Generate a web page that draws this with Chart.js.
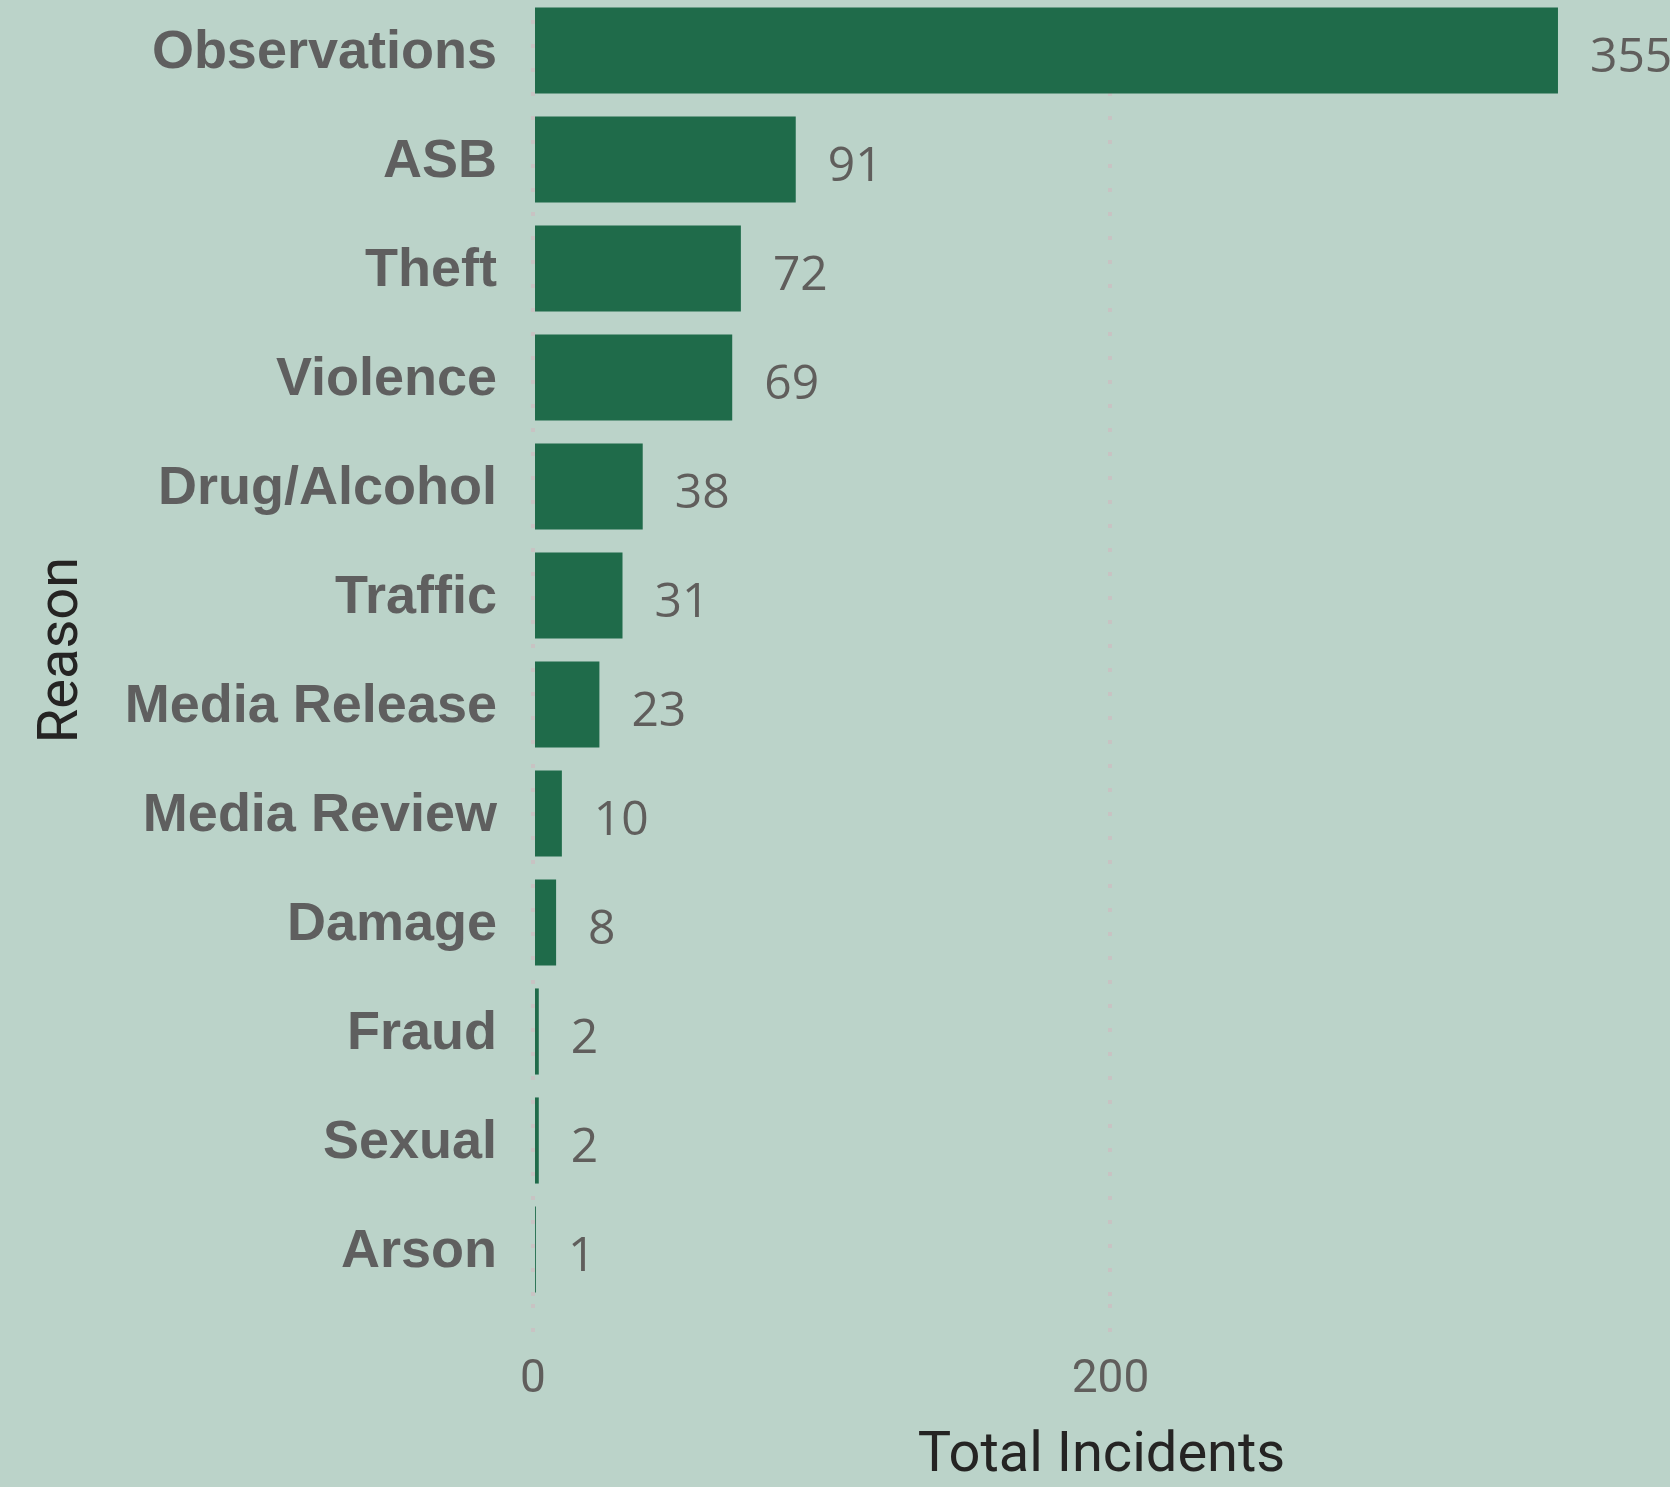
<!DOCTYPE html>
<html>
<head>
<meta charset="utf-8">
<script src="https://cdn.jsdelivr.net/npm/chart.js@4.4.1/dist/chart.umd.min.js"></script>
<style>
  html, body { margin: 0; padding: 0; background: #BBD3C9; overflow: hidden; }
  #wrap { position: absolute; left: 0; top: -4px; width: 1670px; height: 1491px; }
</style>
</head>
<body>
<div id="wrap"><canvas id="ReasonChart" width="1670" height="1491"></canvas></div>
<script>
const reasons = ['Observations', 'ASB', 'Theft', 'Violence', 'Drug/Alcohol', 'Traffic',
  'Media Release', 'Media Review', 'Damage', 'Fraud', 'Sexual', 'Arson'];
const incidents = [355, 91, 72, 69, 38, 31, 23, 10, 8, 2, 2, 1];
const xTicks = [0, 200];
const xMax = 393.8;

// value labels just after the bar end
const valueLabels = {
  id: 'valueLabels',
  afterDatasetsDraw(chart) {
    const ctx = chart.ctx;
    const meta = chart.getDatasetMeta(0);
    ctx.save();
    ctx.font = '48px "Open Sans"';
    ctx.fillStyle = '#605E5C';
    ctx.textAlign = 'left';
    ctx.textBaseline = 'middle';
    meta.data.forEach((bar, i) => {
      ctx.fillText(String(incidents[i]), bar.x + 32, bar.y + 8);
    });
    ctx.restore();
  }
};

new Chart(document.getElementById('ReasonChart'), {
  type: 'bar',
  data: {
    labels: reasons,
    datasets: [{
      label: 'Total Incidents',
      data: incidents,
      backgroundColor: '#1F6B4A',
      barPercentage: 0.79,
      categoryPercentage: 1.0,
      borderSkipped: false
    }]
  },
  options: {
    indexAxis: 'y',
    responsive: false,
    devicePixelRatio: 1,
    animation: false,
    layout: { padding: 0 },
    plugins: {
      legend: { display: false },
      tooltip: { enabled: false }
    },
    scales: {
      x: {
        min: 0,
        max: xMax,
        afterBuildTicks: ax => { ax.ticks = xTicks.map(v => ({ value: v })); },
        afterFit: ax => { ax.height = 183; ax.paddingLeft = 0; ax.paddingRight = 0; },
        grid: {
          display: true,
          color: '#C8C3C3',
          lineWidth: 4,
          drawTicks: true,
          tickLength: 34,
          tickColor: '#C8C3C3',
          tickWidth: 4,
          tickBorderDash: [4, 20]
        },
        border: { display: false, dash: [4, 20] },
        ticks: {
          padding: 15,
          color: '#605E5C',
          font: { family: 'Roboto', size: 46 }
        },
        title: {
          display: true,
          text: 'Total Incidents',
          color: '#252423',
          font: { family: 'Roboto', size: 56, lineHeight: 1 },
          padding: { top: 0, bottom: 2 }
        }
      },
      y: {
        afterFit: ax => { ax.width = 533; ax.paddingTop = 0; ax.paddingBottom = 0; },
        grid: { display: false, drawTicks: false },
        border: { display: false },
        ticks: {
          padding: 36,
          labelOffset: 3,
          color: '#5F5F5F',
          font: { family: 'Liberation Sans', size: 54, weight: 'bold' }
        },
        title: {
          display: true,
          text: 'Reason',
          color: '#252423',
          font: { family: 'Roboto', size: 56, lineHeight: 1 },
          padding: { top: 35, bottom: 0 }
        }
      }
    }
  },
  plugins: [valueLabels]
});
</script>
</body>
</html>
